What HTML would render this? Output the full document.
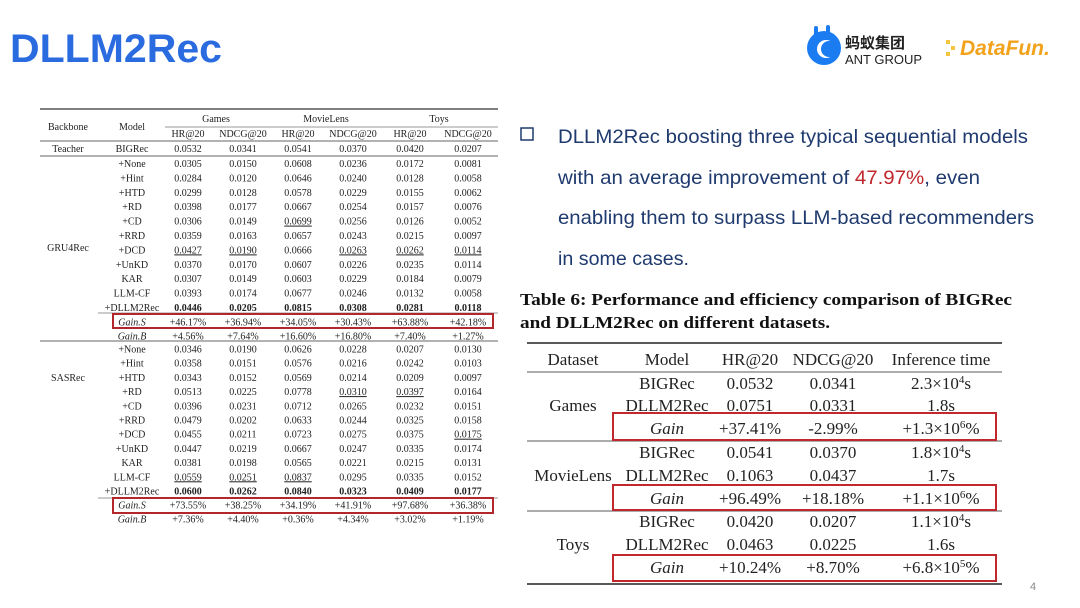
<!DOCTYPE html>
<html><head><meta charset="utf-8"><style>
html,body{margin:0;padding:0;background:#fff;}
svg{display:block;}
.s{font-family:"Liberation Serif",serif;font-size:10px;fill:#222;}
.r{font-family:"Liberation Serif",serif;font-size:17px;fill:#222;}
</style></head><body>
<svg width="1080" height="608" viewBox="0 0 1080 608" xmlns="http://www.w3.org/2000/svg">
<rect width="1080" height="608" fill="#fff"/>
<text x="10" y="62" font-family="Liberation Sans,sans-serif" font-weight="bold" font-size="40" fill="#2a6be0" textLength="212" lengthAdjust="spacingAndGlyphs">DLLM2Rec</text>
<!-- logos -->
<circle cx="824" cy="48" r="17" fill="#1a7cf0"/>
<circle cx="826" cy="49" r="9" fill="#fff"/><circle cx="829" cy="49" r="8" fill="#1a7cf0"/>
<rect x="814" y="26" width="4" height="10" rx="2" fill="#1a7cf0"/><rect x="826" y="25" width="4" height="10" rx="2" fill="#1a7cf0"/>
<text x="845" y="48" font-family="Noto Sans CJK SC,sans-serif" font-size="15" font-weight="bold" fill="#222">蚂蚁集团</text>
<text x="845" y="64" font-family="Liberation Sans,sans-serif" font-size="13" fill="#222">ANT GROUP</text>
<text x="960" y="55" font-family="Liberation Sans,sans-serif" font-size="21" font-weight="bold" font-style="italic" fill="#f2a21b">DataFun.</text>
<rect x="946" y="40" width="4" height="4" fill="#f5c542"/><rect x="951" y="46" width="4" height="4" fill="#f5c542"/><rect x="946" y="52" width="4" height="4" fill="#f5c542"/>
<!-- right text -->
<rect x="521" y="128" width="12" height="12" fill="none" stroke="#1f3a6e" stroke-width="1.5"/>
<g font-family="Liberation Sans,sans-serif" font-size="19.5" fill="#1f3a6e" lengthAdjust="spacingAndGlyphs">
<text x="558" y="143" textLength="470" lengthAdjust="spacingAndGlyphs">DLLM2Rec boosting three typical sequential models</text>
<text x="558" y="184" textLength="422" lengthAdjust="spacingAndGlyphs">with an average improvement of <tspan fill="#c0282d">47.97%</tspan>, even</text>
<text x="558" y="224" textLength="476" lengthAdjust="spacingAndGlyphs">enabling them to surpass LLM-based recommenders</text>
<text x="558" y="265" textLength="131" lengthAdjust="spacingAndGlyphs">in some cases.</text>
</g>
<g font-family="Liberation Serif,serif" font-weight="bold" font-size="16.5" fill="#111">
<text x="520" y="305" textLength="492" lengthAdjust="spacingAndGlyphs">Table 6: Performance and efficiency comparison of BIGRec</text>
<text x="520" y="328" textLength="310" lengthAdjust="spacingAndGlyphs">and DLLM2Rec on different datasets.</text>
</g>
<!-- right table -->
<g stroke="#222">
<line x1="527" y1="343" x2="1002" y2="343" stroke-width="1.5"/>
<line x1="527" y1="372" x2="1002" y2="372" stroke-width="0.8"/>
<line x1="527" y1="441" x2="1002" y2="441" stroke-width="0.8"/>
<line x1="527" y1="511" x2="1002" y2="511" stroke-width="0.8"/>
<line x1="527" y1="584" x2="1002" y2="584" stroke-width="1.5"/>
</g>
<g class="r" text-anchor="middle">
<text x="573" y="365">Dataset</text><text x="667" y="365">Model</text><text x="750" y="365">HR@20</text><text x="833" y="365">NDCG@20</text><text x="941" y="365">Inference time</text>
<text x="667" y="389">BIGRec</text><text x="750" y="389">0.0532</text><text x="833" y="389">0.0341</text><text x="941" y="389">2.3×10<tspan font-size="11" dy="-6">4</tspan><tspan dy="6">s</tspan></text>
<text x="573" y="411">Games</text>
<text x="667" y="411">DLLM2Rec</text><text x="750" y="411">0.0751</text><text x="833" y="411">0.0331</text><text x="941" y="411">1.8s</text>
<text x="667" y="434" font-style="italic">Gain</text><text x="750" y="434">+37.41%</text><text x="833" y="434">-2.99%</text><text x="941" y="434">+1.3×10<tspan font-size="11" dy="-6">6</tspan><tspan dy="6">%</tspan></text>
<text x="667" y="458">BIGRec</text><text x="750" y="458">0.0541</text><text x="833" y="458">0.0370</text><text x="941" y="458">1.8×10<tspan font-size="11" dy="-6">4</tspan><tspan dy="6">s</tspan></text>
<text x="573" y="481">MovieLens</text>
<text x="667" y="481">DLLM2Rec</text><text x="750" y="481">0.1063</text><text x="833" y="481">0.0437</text><text x="941" y="481">1.7s</text>
<text x="667" y="504" font-style="italic">Gain</text><text x="750" y="504">+96.49%</text><text x="833" y="504">+18.18%</text><text x="941" y="504">+1.1×10<tspan font-size="11" dy="-6">6</tspan><tspan dy="6">%</tspan></text>
<text x="667" y="527">BIGRec</text><text x="750" y="527">0.0420</text><text x="833" y="527">0.0207</text><text x="941" y="527">1.1×10<tspan font-size="11" dy="-6">4</tspan><tspan dy="6">s</tspan></text>
<text x="573" y="550">Toys</text>
<text x="667" y="550">DLLM2Rec</text><text x="750" y="550">0.0463</text><text x="833" y="550">0.0225</text><text x="941" y="550">1.6s</text>
<text x="667" y="573" font-style="italic">Gain</text><text x="750" y="573">+10.24%</text><text x="833" y="573">+8.70%</text><text x="941" y="573">+6.8×10<tspan font-size="11" dy="-6">5</tspan><tspan dy="6">%</tspan></text>
</g>
<g fill="none" stroke="#c0282d" stroke-width="2">
<rect x="613" y="413" width="383" height="27"/>
<rect x="613" y="485" width="383" height="25"/>
<rect x="613" y="555" width="383" height="26"/>
</g>
<text x="1030" y="590" font-family="Liberation Sans,sans-serif" font-size="11" fill="#888">4</text>
<!-- left table -->
<g stroke="#333">
<line x1="40" y1="109" x2="498" y2="109" stroke-width="1.3"/>
<line x1="165" y1="127" x2="498" y2="127" stroke-width="0.6"/>
<line x1="40" y1="141" x2="498" y2="141" stroke-width="0.7"/>
<line x1="40" y1="156" x2="498" y2="156" stroke-width="0.7"/>
<line x1="98" y1="313" x2="498" y2="313" stroke-width="0.6"/>
<line x1="40" y1="341" x2="498" y2="341" stroke-width="0.7"/>
<line x1="98" y1="498" x2="498" y2="498" stroke-width="0.6"/>
</g>
<g class="s" text-anchor="middle">
<text x="68" y="130">Backbone</text><text x="132" y="130">Model</text>
<text x="216" y="122">Games</text><text x="326" y="122">MovieLens</text><text x="439" y="122">Toys</text>
<text x="188" y="137">HR@20</text><text x="243" y="137">NDCG@20</text><text x="298" y="137">HR@20</text><text x="353" y="137">NDCG@20</text><text x="410" y="137">HR@20</text><text x="468" y="137">NDCG@20</text>
<text x="68" y="152">Teacher</text><text x="132" y="152">BIGRec</text><text x="188" y="152">0.0532</text><text x="243" y="152">0.0341</text><text x="298" y="152">0.0541</text><text x="353" y="152">0.0370</text><text x="410" y="152">0.0420</text><text x="468" y="152">0.0207</text>
<text x="68" y="251">GRU4Rec</text>
<text x="68" y="381">SASRec</text>
</g>
<g class="s" text-anchor="middle">
<g transform="translate(0,167)">
<text x="132" y="0">+None</text><text x="188" y="0">0.0305</text><text x="243" y="0">0.0150</text><text x="298" y="0">0.0608</text><text x="353" y="0">0.0236</text><text x="410" y="0">0.0172</text><text x="468" y="0">0.0081</text>
<text x="132" y="14.4">+Hint</text><text x="188" y="14.4">0.0284</text><text x="243" y="14.4">0.0120</text><text x="298" y="14.4">0.0646</text><text x="353" y="14.4">0.0240</text><text x="410" y="14.4">0.0128</text><text x="468" y="14.4">0.0058</text>
<text x="132" y="28.8">+HTD</text><text x="188" y="28.8">0.0299</text><text x="243" y="28.8">0.0128</text><text x="298" y="28.8">0.0578</text><text x="353" y="28.8">0.0229</text><text x="410" y="28.8">0.0155</text><text x="468" y="28.8">0.0062</text>
<text x="132" y="43.2">+RD</text><text x="188" y="43.2">0.0398</text><text x="243" y="43.2">0.0177</text><text x="298" y="43.2">0.0667</text><text x="353" y="43.2">0.0254</text><text x="410" y="43.2">0.0157</text><text x="468" y="43.2">0.0076</text>
<text x="132" y="57.6">+CD</text><text x="188" y="57.6">0.0306</text><text x="243" y="57.6">0.0149</text><text x="298" y="57.6" text-decoration="underline">0.0699</text><text x="353" y="57.6">0.0256</text><text x="410" y="57.6">0.0126</text><text x="468" y="57.6">0.0052</text>
<text x="132" y="72">+RRD</text><text x="188" y="72">0.0359</text><text x="243" y="72">0.0163</text><text x="298" y="72">0.0657</text><text x="353" y="72">0.0243</text><text x="410" y="72">0.0215</text><text x="468" y="72">0.0097</text>
<text x="132" y="86.4">+DCD</text><text x="188" y="86.4" text-decoration="underline">0.0427</text><text x="243" y="86.4" text-decoration="underline">0.0190</text><text x="298" y="86.4">0.0666</text><text x="353" y="86.4" text-decoration="underline">0.0263</text><text x="410" y="86.4" text-decoration="underline">0.0262</text><text x="468" y="86.4" text-decoration="underline">0.0114</text>
<text x="132" y="100.8">+UnKD</text><text x="188" y="100.8">0.0370</text><text x="243" y="100.8">0.0170</text><text x="298" y="100.8">0.0607</text><text x="353" y="100.8">0.0226</text><text x="410" y="100.8">0.0235</text><text x="468" y="100.8">0.0114</text>
<text x="132" y="115.2">KAR</text><text x="188" y="115.2">0.0307</text><text x="243" y="115.2">0.0149</text><text x="298" y="115.2">0.0603</text><text x="353" y="115.2">0.0229</text><text x="410" y="115.2">0.0184</text><text x="468" y="115.2">0.0079</text>
<text x="132" y="129.6">LLM-CF</text><text x="188" y="129.6">0.0393</text><text x="243" y="129.6">0.0174</text><text x="298" y="129.6">0.0677</text><text x="353" y="129.6">0.0246</text><text x="410" y="129.6">0.0132</text><text x="468" y="129.6">0.0058</text>
<text x="132" y="144">+DLLM2Rec</text><g font-weight="bold"><text x="188" y="144">0.0446</text><text x="243" y="144">0.0205</text><text x="298" y="144">0.0815</text><text x="353" y="144">0.0308</text><text x="410" y="144">0.0281</text><text x="468" y="144">0.0118</text></g>
<text x="132" y="158.4" font-style="italic">Gain.S</text><text x="188" y="158.4">+46.17%</text><text x="243" y="158.4">+36.94%</text><text x="298" y="158.4">+34.05%</text><text x="353" y="158.4">+30.43%</text><text x="410" y="158.4">+63.88%</text><text x="468" y="158.4">+42.18%</text>
<text x="132" y="172.4" font-style="italic">Gain.B</text><text x="188" y="172.4">+4.56%</text><text x="243" y="172.4">+7.64%</text><text x="298" y="172.4">+16.60%</text><text x="353" y="172.4">+16.80%</text><text x="410" y="172.4">+7.40%</text><text x="468" y="172.4">+1.27%</text>
</g>
<g transform="translate(0,352.5)">
<text x="132" y="0">+None</text><text x="188" y="0">0.0346</text><text x="243" y="0">0.0190</text><text x="298" y="0">0.0626</text><text x="353" y="0">0.0228</text><text x="410" y="0">0.0207</text><text x="468" y="0">0.0130</text>
<text x="132" y="14.2">+Hint</text><text x="188" y="14.2">0.0358</text><text x="243" y="14.2">0.0151</text><text x="298" y="14.2">0.0576</text><text x="353" y="14.2">0.0216</text><text x="410" y="14.2">0.0242</text><text x="468" y="14.2">0.0103</text>
<text x="132" y="28.4">+HTD</text><text x="188" y="28.4">0.0343</text><text x="243" y="28.4">0.0152</text><text x="298" y="28.4">0.0569</text><text x="353" y="28.4">0.0214</text><text x="410" y="28.4">0.0209</text><text x="468" y="28.4">0.0097</text>
<text x="132" y="42.6">+RD</text><text x="188" y="42.6">0.0513</text><text x="243" y="42.6">0.0225</text><text x="298" y="42.6">0.0778</text><text x="353" y="42.6" text-decoration="underline">0.0310</text><text x="410" y="42.6" text-decoration="underline">0.0397</text><text x="468" y="42.6">0.0164</text>
<text x="132" y="56.8">+CD</text><text x="188" y="56.8">0.0396</text><text x="243" y="56.8">0.0231</text><text x="298" y="56.8">0.0712</text><text x="353" y="56.8">0.0265</text><text x="410" y="56.8">0.0232</text><text x="468" y="56.8">0.0151</text>
<text x="132" y="71">+RRD</text><text x="188" y="71">0.0479</text><text x="243" y="71">0.0202</text><text x="298" y="71">0.0633</text><text x="353" y="71">0.0244</text><text x="410" y="71">0.0325</text><text x="468" y="71">0.0158</text>
<text x="132" y="85.2">+DCD</text><text x="188" y="85.2">0.0455</text><text x="243" y="85.2">0.0211</text><text x="298" y="85.2">0.0723</text><text x="353" y="85.2">0.0275</text><text x="410" y="85.2">0.0375</text><text x="468" y="85.2" text-decoration="underline">0.0175</text>
<text x="132" y="99.4">+UnKD</text><text x="188" y="99.4">0.0447</text><text x="243" y="99.4">0.0219</text><text x="298" y="99.4">0.0667</text><text x="353" y="99.4">0.0247</text><text x="410" y="99.4">0.0335</text><text x="468" y="99.4">0.0174</text>
<text x="132" y="113.6">KAR</text><text x="188" y="113.6">0.0381</text><text x="243" y="113.6">0.0198</text><text x="298" y="113.6">0.0565</text><text x="353" y="113.6">0.0221</text><text x="410" y="113.6">0.0215</text><text x="468" y="113.6">0.0131</text>
<text x="132" y="127.8">LLM-CF</text><text x="188" y="127.8" text-decoration="underline">0.0559</text><text x="243" y="127.8" text-decoration="underline">0.0251</text><text x="298" y="127.8" text-decoration="underline">0.0837</text><text x="353" y="127.8">0.0295</text><text x="410" y="127.8">0.0335</text><text x="468" y="127.8">0.0152</text>
<text x="132" y="142">+DLLM2Rec</text><g font-weight="bold"><text x="188" y="142">0.0600</text><text x="243" y="142">0.0262</text><text x="298" y="142">0.0840</text><text x="353" y="142">0.0323</text><text x="410" y="142">0.0409</text><text x="468" y="142">0.0177</text></g>
<text x="132" y="156.2" font-style="italic">Gain.S</text><text x="188" y="156.2">+73.55%</text><text x="243" y="156.2">+38.25%</text><text x="298" y="156.2">+34.19%</text><text x="353" y="156.2">+41.91%</text><text x="410" y="156.2">+97.68%</text><text x="468" y="156.2">+36.38%</text>
<text x="132" y="170" font-style="italic">Gain.B</text><text x="188" y="170">+7.36%</text><text x="243" y="170">+4.40%</text><text x="298" y="170">+0.36%</text><text x="353" y="170">+4.34%</text><text x="410" y="170">+3.02%</text><text x="468" y="170">+1.19%</text>
</g>
</g>
<g fill="none" stroke="#b3262b" stroke-width="2">
<rect x="113" y="314" width="380" height="14"/>
<rect x="113" y="498" width="380" height="15"/>
</g>
</svg>
</body></html>
